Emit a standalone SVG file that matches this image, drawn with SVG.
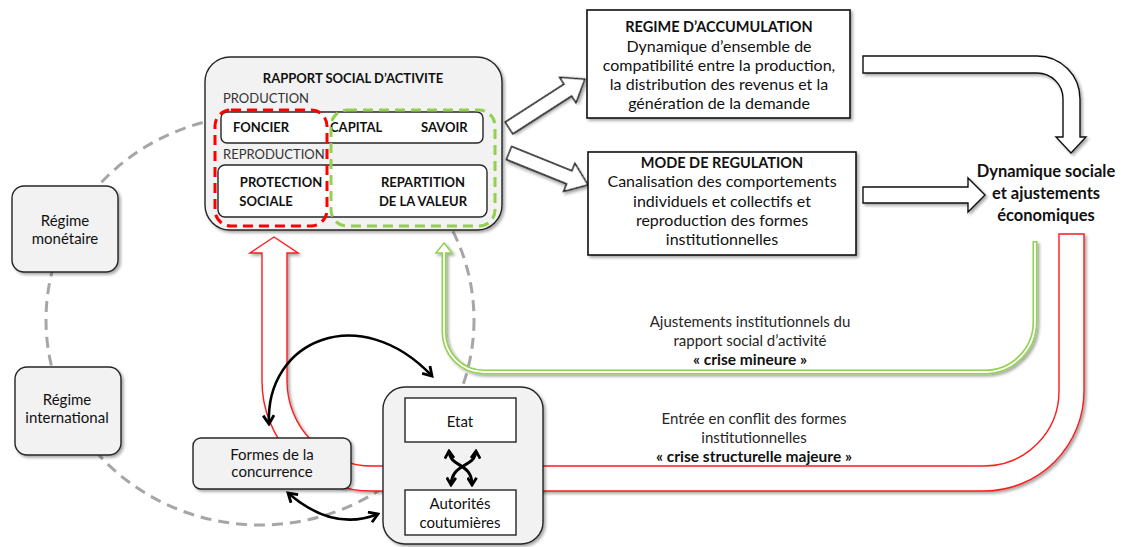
<svg xmlns="http://www.w3.org/2000/svg" width="1132" height="547" viewBox="0 0 1132 547">
<defs>
<style>
text{font-family:Lato,"Open Sans","Liberation Sans",sans-serif;fill:#111}
.t13{font-size:13px}
.t14{font-size:14.5px}
.t16{font-size:16px}
.n15{font-size:15px}
.b{font-weight:bold}
.m{text-anchor:middle}
.lbl{font-size:15px;fill:#262626}
.lblb{font-size:15.5px;font-weight:bold;fill:#111}
.gbox{fill:#f2f2f2;stroke:#262626;stroke-width:1.4}
.wbox{fill:#fff;stroke:#262626;stroke-width:1.4}
.sq{fill:#fff;stroke:#111;stroke-width:1.6}
.blk{fill:#fff;stroke:#111;stroke-width:1.4}
.arr{fill:none;stroke:#000;stroke-width:2.6}
.dyn{font-size:16.5px;font-weight:bold}
</style>
<filter id="sh" x="-10%" y="-10%" width="130%" height="130%">
<feDropShadow dx="2" dy="2" stdDeviation="1.5" flood-color="#000" flood-opacity="0.35"/>
</filter>
<marker id="ah" viewBox="0 0 12 12" refX="10" refY="6" markerWidth="13" markerHeight="13" orient="auto-start-reverse" markerUnits="userSpaceOnUse">
<path d="M2,1 L10,6 L2,11" fill="none" stroke="#000" stroke-width="2.6"/>
</marker>
<marker id="ah2" viewBox="0 0 12 12" refX="10" refY="6" markerWidth="11" markerHeight="11" orient="auto-start-reverse" markerUnits="userSpaceOnUse">
<path d="M2,1 L10,6 L2,11" fill="none" stroke="#000" stroke-width="3"/>
</marker>
</defs>
<rect width="1132" height="547" fill="#fff"/>

<g id="connectors">
<ellipse cx="260" cy="320" rx="214" ry="205" fill="none" stroke="#a6a6a6" stroke-width="3" stroke-dasharray="11 7"/>
<path d="M1084,234 V391 A100,100 0 0 1 984,491 H372 A110,110 0 0 1 262,381 V253 H250 L274,237 L298,253 H287 V381 A85,85 0 0 0 372,466 H984 A75,75 0 0 0 1059,391 V234 Z" fill="#fff" stroke="#ff1a1a" stroke-width="1.4" filter="url(#sh)"/>
<g filter="url(#sh)">
<path d="M1035,241 V322 A50,50 0 0 1 985,372 H484 A40,40 0 0 1 444,332 V252" fill="none" stroke="#92d050" stroke-width="5"/>
<polygon points="436,253 444,243 452,253" fill="#fff" stroke="#92d050" stroke-width="1.5"/>
<path d="M1035,242.5 V322 A50,50 0 0 1 985,372 H484 A40,40 0 0 1 444,332 V251" fill="none" stroke="#fff" stroke-width="1.8"/>
</g>
<polygon class="blk" filter="url(#sh)" transform="translate(509,128) rotate(-32.8)" points="0,-7 70,-7 70,-15 90,0 70,15 70,7 0,7"/>
<polygon class="blk" filter="url(#sh)" transform="translate(509,153) rotate(22)" points="0,-7 65,-7 65,-15 85,0 65,15 65,7 0,7"/>
<path class="blk" filter="url(#sh)" d="M863,56 H1037 A43,43 0 0 1 1080,99 V137 H1086 L1071,153 L1056,137 H1063 V99 A26,26 0 0 0 1037,73 H863 Z"/>
<path class="blk" filter="url(#sh)" d="M863,187 H968 V178 L985,195 L968,212 V203 H863 Z"/>
<path class="arr" d="M269,424 C265,340 360,300 432,376" marker-start="url(#ah)" marker-end="url(#ah)"/>
<path class="arr" d="M288,493 Q333,532 378,514" marker-start="url(#ah)" marker-end="url(#ah)"/>
</g>

<g id="rapport-social">
<rect class="gbox" filter="url(#sh)" x="205" y="57" width="297" height="173" rx="25"/>
<text class="t13 b m" x="353" y="83">RAPPORT SOCIAL D’ACTIVITE</text>
<text class="t13" x="223" y="103" style="fill:#333">PRODUCTION</text>
<rect class="wbox" x="221" y="112" width="262" height="31" rx="6"/>
<text class="t13 b" x="233" y="132">FONCIER</text>
<text class="t13 b" x="330" y="132">CAPITAL</text>
<text class="t13 b" x="421" y="132">SAVOIR</text>
<text class="t13" x="223" y="159" style="fill:#333">REPRODUCTION</text>
<rect class="wbox" x="218" y="165" width="269" height="52" rx="7"/>
<text class="t13 b m" x="281" y="187">PROTECTION</text>
<text class="t13 b m" x="266" y="206">SOCIALE</text>
<text class="t13 b m" x="423" y="187">REPARTITION</text>
<text class="t13 b m" x="423" y="206">DE LA VALEUR</text>
<rect x="215" y="110" width="112" height="116" rx="16" fill="none" stroke="#ff0000" stroke-width="3" stroke-dasharray="10 6"/>
<rect x="331" y="110" width="164" height="116" rx="16" fill="none" stroke="#92d050" stroke-width="3" stroke-dasharray="10 6"/>
</g>

<g id="regime-accumulation">
<rect class="sq" filter="url(#sh)" x="587" y="10" width="263" height="108"/>
<text class="t14 b m" x="719" y="32">REGIME D’ACCUMULATION</text>
<text class="t16 m" x="719" y="52">Dynamique d’ensemble de</text>
<text class="t16 m" x="719" y="71">compatibilité entre la production,</text>
<text class="t16 m" x="719" y="90">la distribution des revenus et la</text>
<text class="t16 m" x="719" y="109">génération de la demande</text>
</g>

<g id="mode-regulation">
<rect class="sq" filter="url(#sh)" x="588" y="152" width="268" height="103"/>
<text class="t14 b m" x="722" y="168">MODE DE REGULATION</text>
<text class="t16 m" x="722" y="187">Canalisation des comportements</text>
<text class="t16 m" x="722" y="207">individuels et collectifs et</text>
<text class="t16 m" x="722" y="226">reproduction des formes</text>
<text class="t16 m" x="722" y="245">institutionnelles</text>
</g>

<g id="dynamique">
<text class="dyn m" x="1046" y="177">Dynamique sociale</text>
<text class="dyn m" x="1046" y="199">et ajustements</text>
<text class="dyn m" x="1046" y="221">économiques</text>
</g>

<g id="regime-monetaire">
<rect class="gbox" filter="url(#sh)" x="12" y="186" width="106" height="86" rx="12"/>
<text class="n15 m" x="65" y="226">Régime</text>
<text class="n15 m" x="65" y="244">monétaire</text>
</g>

<g id="regime-international">
<rect class="gbox" filter="url(#sh)" x="15" y="367" width="106" height="88" rx="12"/>
<text class="n15 m" x="67" y="405">Régime</text>
<text class="n15 m" x="67" y="423">international</text>
</g>

<g id="formes-concurrence">
<rect class="gbox" filter="url(#sh)" x="193" y="438" width="158" height="51" rx="8"/>
<text class="n15 m" x="272" y="460">Formes de la</text>
<text class="n15 m" x="272" y="477">concurrence</text>
</g>

<g id="etat-autorites">
<rect class="gbox" filter="url(#sh)" x="383" y="387" width="160" height="157" rx="22"/>
<rect class="wbox" x="405" y="398" width="111" height="44"/>
<text class="n15 m" x="460" y="427">Etat</text>
<rect class="wbox" x="405" y="490" width="111" height="45"/>
<text class="n15 m" x="460" y="509">Autorités</text>
<text class="n15 m" x="460" y="528">coutumières</text>
<path class="arr" style="stroke-width:3" d="M449,451 C450,468 472,462 472,485" marker-start="url(#ah2)" marker-end="url(#ah2)"/>
<path class="arr" style="stroke-width:3" d="M476,451 C475,468 452,462 451,485" marker-start="url(#ah2)" marker-end="url(#ah2)"/>
</g>

<g id="labels">
<text class="lbl m" x="750" y="327">Ajustements institutionnels du</text>
<text class="lbl m" x="750" y="346">rapport social d’activité</text>
<text class="lblb m" x="750" y="365">« crise mineure »</text>
<text class="lbl m" x="754" y="424">Entrée en conflit des formes</text>
<text class="lbl m" x="754" y="443">institutionnelles</text>
<text class="lblb m" x="754" y="462">« crise structurelle majeure »</text>
</g>
</svg>
